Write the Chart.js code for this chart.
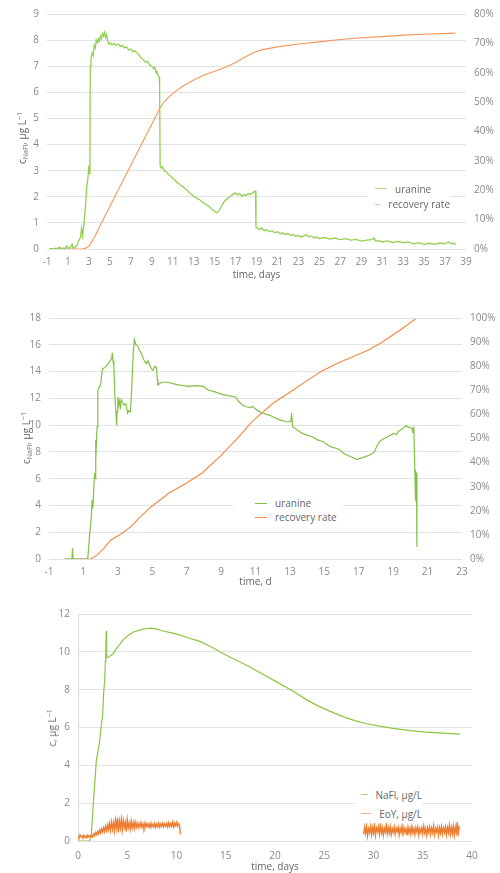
<!DOCTYPE html>
<html>
<head>
<meta charset="utf-8">
<script src="https://cdn.jsdelivr.net/npm/chart.js@4.4.1/dist/chart.umd.min.js"></script>
<style>
  body { margin: 0; background: #fff; font-family: "Open Sans", sans-serif; }
  #page { position: relative; width: 500px; height: 873px; overflow: hidden; }
  canvas { position: absolute; left: 0; }
  .ytitle { position: absolute; transform: translate(-50%, -50%) rotate(-90deg); white-space: nowrap; font-size: 10px; color: #666; }
  .ytitle sub { font-size: 7px; vertical-align: -2px; }
  .ytitle sup { font-size: 7px; vertical-align: 4px; }
  .legend { position: absolute; background: #fff; font-size: 10px; color: #666; }
  .legend .row { display: flex; align-items: center; white-space: nowrap; }
  .legend .swatch { display: inline-block; width: 12px; height: 0; border-top: 1.5px solid; margin-right: 8px; }
</style>
</head>
<body>
<div id="page">
  <canvas id="uranineLongChart" width="500" height="290" style="top:0"></canvas>
  <canvas id="uranineShortChart" width="500" height="290" style="top:300px"></canvas>
  <canvas id="tracerChart" width="500" height="273" style="top:600px"></canvas>

  <div class="ytitle" style="left:22px; top:138px">c<sub>NaFl</sub>, µg L<sup>−1</sup></div>
  <div class="ytitle" style="left:26px; top:438px">c<sub>NaFl</sub>, µg L<sup>−1</sup></div>
  <div class="ytitle" style="left:52px; top:728px">c, µg L<sup>−1</sup></div>

  <div class="legend" id="legend1" style="left:368px; top:181px; width:82px; height:31px; padding-left:7px; box-sizing:border-box"></div>
  <div class="legend" id="legend2" style="left:233px; top:496px; width:110px; height:30px; padding-left:22px; box-sizing:border-box"></div>
  <div class="legend" id="legend3" style="left:355px; top:785px; width:67px; height:38px; padding-left:6px; box-sizing:border-box"></div>
</div>

<script>
// ---- chart 1: uranine, long run (days, µg/L and %)
const longTicksX = [-1, 1, 3, 5, 7, 9, 11, 13, 15, 17, 19, 21, 23, 25, 27, 29, 31, 33, 35, 37, 39];
const longUranine = [
  [-0.8,0],[-0.6,0.01],[-0.4,0],[-0.2,0.03],[0,0.01],[0.2,0.08],[0.3,0.01],[0.5,0.04],[0.7,0.02],[0.9,0.12],
  [1.0,0.02],[1.2,0.05],[1.4,0.18],[1.5,0.03],[1.7,0.08],[1.9,0.15],[2.0,0.3],[2.2,0.45],[2.3,0.8],[2.4,0.5],
  [2.5,0.85],[2.6,1.3],[2.7,1.8],[2.8,2.4],[2.9,2.7],[3.0,3.2],[3.05,2.9],[3.1,3.4],[3.13,7.0],[3.2,7.3],
  [3.3,7.5],[3.4,7.4],[3.5,7.8],[3.6,7.7],[3.7,8.0],[3.8,7.9],[3.9,8.05],[4.0,7.95],[4.1,8.15],[4.2,8.05],
  [4.3,8.25],[4.4,8.15],[4.5,8.3],[4.6,8.1],[4.7,8.2],[4.8,7.95],[4.9,7.85],[5.0,7.9],[5.2,7.82],[5.4,7.88],
  [5.6,7.8],[5.8,7.85],[6.0,7.76],[6.2,7.8],[6.4,7.7],[6.6,7.74],[6.8,7.62],[7.0,7.66],[7.2,7.56],[7.4,7.6],
  [7.6,7.5],[7.8,7.42],[8.0,7.3],[8.2,7.25],[8.4,7.15],[8.6,7.18],[8.8,7.05],[9.0,7.0],[9.2,6.9],[9.3,6.95],
  [9.4,6.75],[9.5,6.8],[9.6,6.65],[9.7,6.6],[9.75,6.3],[9.8,3.2],[9.9,3.1],[10.0,3.15],[10.2,3.0],[10.4,2.95],
  [10.6,2.85],[10.8,2.8],[11.0,2.7],[11.2,2.65],[11.4,2.55],[11.6,2.5],[11.8,2.42],[12.0,2.38],[12.2,2.3],[12.4,2.25],
  [12.6,2.15],[12.8,2.1],[13.0,2.02],[13.2,1.98],[13.4,1.92],[13.6,1.88],[13.8,1.8],[14.0,1.76],[14.2,1.7],[14.4,1.65],
  [14.6,1.58],[14.8,1.5],[15.0,1.45],[15.2,1.38],[15.4,1.45],[15.6,1.6],[15.8,1.75],[16.0,1.85],[16.2,1.92],[16.4,1.98],
  [16.6,2.05],[16.8,2.1],[17.0,2.15],[17.2,2.08],[17.4,2.12],[17.6,2.02],[17.8,2.08],[18.0,2.05],[18.2,2.12],[18.4,2.08],
  [18.6,2.15],[18.8,2.2],[18.9,2.22],[18.95,0.85],[19.0,0.82],[19.25,0.75],[19.5,0.8],[19.75,0.7],[20.0,0.74],[20.25,0.66],
  [20.5,0.7],[20.75,0.62],[21.0,0.66],[21.25,0.58],[21.5,0.62],[21.75,0.55],[22.0,0.6],[22.25,0.52],[22.5,0.56],[22.75,0.48],
  [23.0,0.52],[23.25,0.46],[23.5,0.5],[23.75,0.55],[24.0,0.46],[24.25,0.5],[24.5,0.42],[24.75,0.46],[25.0,0.4],[25.5,0.44],
  [26.0,0.38],[26.5,0.42],[27.0,0.36],[27.5,0.4],[28.0,0.34],[28.5,0.37],[29.0,0.3],[29.5,0.34],[30.0,0.36],[30.2,0.42],
  [30.4,0.3],[30.7,0.32],[31.0,0.27],[31.5,0.31],[32.0,0.25],[32.5,0.29],[33.0,0.24],[33.5,0.27],[34.0,0.2],[34.5,0.24],
  [35.0,0.18],[35.5,0.22],[36.0,0.18],[36.5,0.23],[37.0,0.2],[37.3,0.27],[37.6,0.2],[37.9,0.22],[38.0,0.16]
];
const longRecovery = [
  [-0.8,0],[2.4,0],[2.7,0.3],[3.0,1],[3.3,2.5],[3.6,4.5],[4.0,7.5],[5,14.5],[6,21.5],[7,28.5],
  [8,35.5],[9,42.5],[9.7,47.5],[10.2,50.2],[11,53],[12,55.5],[13,57.5],[14,59.2],[15,60.5],[16,61.8],
  [17,63.5],[18,65.5],[18.8,67],[19.5,67.8],[21,68.8],[23,69.8],[25,70.5],[27,71.3],[29,71.9],[31,72.3],
  [33,72.8],[35,73.1],[38,73.5]
];

// ---- chart 2: uranine, short run
const shortTicksX = [-1, 1, 3, 5, 7, 9, 11, 13, 15, 17, 19, 21, 23];
const shortUranine = [
  [-0.1,0],[0.33,0],[0.37,0.8],[0.4,0],[1.25,0],[1.37,1.9],[1.45,3.0],[1.51,4.4],[1.55,3.8],[1.6,5.2],
  [1.65,6.4],[1.68,6.0],[1.7,8.9],[1.73,7.2],[1.77,9.3],[1.8,9.9],[1.84,12.6],[1.9,12.8],[2.0,13.0],[2.1,14.2],
  [2.25,14.3],[2.39,14.5],[2.55,14.8],[2.65,15.0],[2.68,15.4],[2.72,14.8],[2.77,14.4],[2.83,12.1],[2.93,10.0],[2.96,11.0],
  [3.0,12.1],[3.05,11.5],[3.1,11.8],[3.15,11.2],[3.2,11.9],[3.27,11.7],[3.35,11.5],[3.47,11.6],[3.57,10.9],[3.65,11.1],
  [3.73,11.0],[3.8,12.5],[3.9,15.5],[3.96,16.4],[4.05,16.0],[4.16,15.9],[4.25,15.6],[4.35,15.4],[4.5,14.9],[4.65,14.6],
  [4.75,14.8],[4.85,14.5],[4.95,14.2],[5.04,14.1],[5.15,14.4],[5.24,14.3],[5.3,13.4],[5.33,13.0],[5.53,13.2],[5.92,13.2],
  [6.2,13.1],[6.5,13.0],[7.1,12.9],[7.5,12.95],[7.98,12.9],[8.1,12.75],[8.27,12.6],[8.6,12.5],[9.05,12.3],[9.4,12.2],
  [9.84,12.1],[10.0,11.8],[10.23,11.5],[10.5,11.35],[10.73,11.3],[10.82,11.4],[11.1,11.1],[11.4,10.9],[11.8,10.75],[12.2,10.5],
  [12.5,10.35],[12.78,10.25],[13.05,10.25],[13.1,10.9],[13.15,9.9],[13.4,9.65],[13.7,9.4],[14.0,9.25],[14.3,9.13],[14.6,8.9],
  [14.95,8.76],[15.1,8.6],[15.35,8.39],[15.6,8.3],[15.93,8.14],[16.1,7.9],[16.5,7.65],[16.9,7.44],[17.2,7.55],[17.5,7.7],
  [17.7,7.8],[17.9,8.0],[18.05,8.4],[18.2,8.76],[18.4,8.95],[18.66,9.13],[19.06,9.38],[19.2,9.3],[19.3,9.55],[19.44,9.63],
  [19.6,9.8],[19.75,9.93],[19.9,9.85],[20.1,9.75],[20.15,9.4],[20.2,9.9],[20.25,7.0],[20.3,4.4],[20.32,6.5],[20.35,6.4],
  [20.38,0.9]
];
const shortRecovery = [
  [-0.1,0],[1.45,0],[1.8,1.7],[2.2,4.5],[2.59,7.9],[3.2,10.5],[3.76,13.4],[4.3,17.5],[4.94,21.7],[6,27.5],
  [7,31.5],[7.88,35.6],[9,43],[10,50.5],[10.8,57],[12,64.5],[13.17,70],[14,74],[14.73,77.5],[15.7,81],
  [16.69,84],[17.5,86.5],[18.26,89.5],[19.3,94.5],[20.3,99.6]
];

// ---- chart 3: NaFl and EoY
const nafl = [
  [0,0],[1.19,0],[1.36,0.42],[1.6,2.3],[1.87,4.3],[2.05,4.8],[2.2,5.3],[2.38,6.2],[2.5,6.6],[2.6,7.8],
  [2.71,8.5],[2.78,9.5],[2.82,9.7],[2.86,11.1],[2.89,11.1],[2.92,9.7],[3.0,9.7],[3.2,9.75],[3.56,9.9],[4.0,10.25],
  [4.24,10.4],[4.6,10.65],[4.92,10.8],[5.6,11.05],[6.6,11.2],[7.46,11.25],[8.0,11.2],[8.65,11.1],[9.5,11.0],[10.3,10.9],
  [11.3,10.72],[12.37,10.55],[13.4,10.3],[14.4,10.0],[15.5,9.7],[16.5,9.45],[17.47,9.2],[18.8,8.8],[20.2,8.4],[21.9,7.9],
  [23.1,7.5],[24.25,7.17],[25.6,6.85],[26.96,6.56],[28.1,6.36],[29.3,6.2],[30.6,6.07],[32.0,5.95],[33.5,5.85],[35.1,5.77],
  [37,5.7],[38.76,5.65]
];
const eoyEarly = [
  [0.0,0.25],[0.1,0.18],[0.2,0.32],[0.3,0.22],[0.4,0.28],[0.5,0.15],[0.6,0.3],[0.7,0.2],[0.8,0.27],[0.9,0.17],
  [1.0,0.31],[1.1,0.22],[1.2,0.26],[1.3,0.2],[1.4,0.3],[1.5,0.22],[1.6,0.38],[1.7,0.28],[1.8,0.45],[1.9,0.33],
  [2.0,0.5],[2.1,0.38],[2.2,0.58],[2.3,0.42],[2.4,0.64],[2.5,0.48],[2.6,0.7],[2.7,0.5],[2.8,0.78],[2.9,0.55],
  [3.0,0.85],[3.1,0.6],[3.2,0.92],[3.3,0.58],[3.4,1.0],[3.5,0.62],[3.6,0.95],[3.7,0.55],[3.8,1.1],[3.9,0.7],
  [4.0,1.22],[4.1,0.45],[4.2,1.05],[4.3,0.68],[4.4,1.15],[4.5,0.6],[4.6,1.08],[4.7,0.72],[4.8,0.98],[4.9,0.5],
  [5.0,1.12],[5.1,0.7],[5.2,0.95],[5.3,0.62],[5.4,1.05],[5.5,0.7],[5.6,0.98],[5.7,0.66],[5.8,1.0],[5.9,0.72],
  [6.0,0.95],[6.1,0.7],[6.2,0.92],[6.3,0.75],[6.4,0.97],[6.5,0.72],[6.6,0.9],[6.7,0.7],[6.8,0.95],[6.9,0.74],
  [7.0,0.92],[7.1,0.76],[7.2,0.9],[7.3,0.72],[7.4,0.95],[7.5,0.75],[7.6,0.88],[7.7,0.74],[7.8,0.93],[7.9,0.72],
  [8.0,0.9],[8.1,0.76],[8.2,0.94],[8.3,0.74],[8.4,0.9],[8.5,0.78],[8.6,0.95],[8.7,0.75],[8.8,0.9],[8.9,0.78],
  [9.0,0.92],[9.1,0.74],[9.2,0.96],[9.3,0.76],[9.4,0.92],[9.5,0.78],[9.6,1.0],[9.7,0.75],[9.8,0.94],[9.9,0.8],
  [10.0,0.98],[10.1,0.78],[10.2,0.92],[10.3,0.85],[10.4,0.35]
];
const eoyLate = [
  [29.0,0.35],[29.1,0.72],[29.2,0.4],[29.3,0.8],[29.4,0.28],[29.5,0.65],[29.6,0.45],[29.7,0.78],[29.8,0.32],[29.9,0.7],
  [30.0,0.42],[30.1,0.85],[30.2,0.3],[30.3,0.68],[30.4,0.5],[30.5,0.75],[30.6,0.36],[30.7,0.82],[30.8,0.44],[30.9,0.7],
  [31.0,0.3],[31.1,0.66],[31.2,0.48],[31.3,0.9],[31.4,0.38],[31.5,0.7],[31.6,0.42],[31.7,0.76],[31.8,0.34],[31.9,0.65],
  [32.0,0.46],[32.1,0.74],[32.2,0.36],[32.3,0.68],[32.4,0.5],[32.5,0.72],[32.6,0.32],[32.7,0.66],[32.8,0.44],[32.9,0.78],
  [33.0,0.38],[33.1,0.7],[33.2,0.46],[33.3,0.64],[33.4,0.3],[33.5,0.72],[33.6,0.42],[33.7,0.68],[33.8,0.36],[33.9,0.76],
  [34.0,0.44],[34.1,0.66],[34.2,0.34],[34.3,0.7],[34.4,0.48],[34.5,0.74],[34.6,0.32],[34.7,0.64],[34.8,0.45],[34.9,0.7],
  [35.0,0.38],[35.1,0.78],[35.2,0.42],[35.3,0.66],[35.4,0.3],[35.5,0.7],[35.6,0.46],[35.7,0.74],[35.8,0.36],[35.9,0.68],
  [36.0,0.44],[36.1,0.8],[36.2,0.34],[36.3,0.66],[36.4,0.48],[36.5,0.72],[36.6,0.3],[36.7,0.7],[36.8,0.42],[36.9,0.76],
  [37.0,0.36],[37.1,0.68],[37.2,0.46],[37.3,0.74],[37.4,0.32],[37.5,0.7],[37.6,0.44],[37.7,0.82],[37.8,0.36],[37.9,0.72],
  [38.0,0.4],[38.1,0.78],[38.2,0.3],[38.3,0.74],[38.4,0.44],[38.5,1.0],[38.6,0.28],[38.7,0.8]
];

const tickColor = "#8a8a8a";
const gridColor = "#e2e2e2";
const tickFont = { family: "'Open Sans', sans-serif", size: 10 };
const titleFont = { family: "'Open Sans', sans-serif", size: 10 };

const toPoints = (pairs) => pairs.map(([x, y]) => ({ x, y }));

function lineSet(label, pairs, color, yAxisID, width) {
  return {
    label,
    data: toPoints(pairs),
    borderColor: color,
    backgroundColor: color,
    borderWidth: width || 1.2,
    pointRadius: 0,
    tension: 0,
    yAxisID: yAxisID || "y",
  };
}

function xScale(min, max, ticks, title, labelPad, titlePad, height) {
  return {
    type: "linear",
    min,
    max,
    afterBuildTicks: (scale) => { scale.ticks = ticks.map((value) => ({ value })); },
    ticks: { color: tickColor, font: tickFont, padding: labelPad, maxRotation: 0, autoSkip: false },
    grid: { display: false, drawTicks: false },
    border: { display: false },
    title: { display: true, text: title, color: "#666", font: titleFont, padding: { top: 0, bottom: titlePad } },
    afterFit: (scale) => { scale.height = height; },
  };
}

function leftScale(max, step, width, showBorder) {
  return {
    position: "left",
    min: 0,
    max,
    ticks: { stepSize: step, color: tickColor, font: tickFont, padding: 8 },
    grid: { color: gridColor, drawTicks: false },
    border: { display: !!showBorder, color: "#d9d9d9" },
    afterFit: (scale) => { scale.width = width; },
  };
}

function rightScale(max, step, width) {
  return {
    position: "right",
    min: 0,
    max,
    ticks: { stepSize: step, color: tickColor, font: tickFont, padding: 8, callback: (v) => `${v}%` },
    grid: { display: false, drawTicks: false },
    border: { display: false },
    afterFit: (scale) => { scale.width = width; },
  };
}

const common = {
  responsive: false,
  animation: false,
  devicePixelRatio: 1,
  plugins: { legend: { display: false }, tooltip: { enabled: false } },
};

new Chart(document.getElementById("uranineLongChart"), {
  type: "line",
  data: {
    datasets: [
      lineSet("uranine", longUranine, "#92d050", "y", 1.3),
      lineSet("recovery rate", longRecovery, "#f7945a", "y1", 1.1),
    ],
  },
  options: {
    ...common,
    layout: { padding: { top: 12, left: 0, right: 0, bottom: 0 } },
    scales: {
      x: xScale(-1, 39, longTicksX, "time, days", 7, 9, 41),
      y: leftScale(9, 1, 47),
      y1: rightScale(80, 10, 34),
    },
  },
});

new Chart(document.getElementById("uranineShortChart"), {
  type: "line",
  data: {
    datasets: [
      lineSet("uranine", shortUranine, "#84c045", "y", 1.2),
      lineSet("recovery rate", shortRecovery, "#f4883f", "y1", 1.1),
    ],
  },
  options: {
    ...common,
    layout: { padding: { top: 18, left: 0, right: 0, bottom: 0 } },
    scales: {
      x: xScale(-1, 23, shortTicksX, "time, d", 7, 2, 31),
      y: leftScale(18, 2, 49),
      y1: rightScale(100, 10, 38),
    },
  },
});

new Chart(document.getElementById("tracerChart"), {
  type: "line",
  data: {
    datasets: [
      lineSet("EoY, µg/L", eoyEarly, "#ed7d31", "y", 1.4),
      lineSet("EoY, µg/L", eoyLate, "#ed7d31", "y", 1.4),
      lineSet("NaFl, µg/L", nafl, "#8cc63f", "y", 1.2),
    ],
  },
  options: {
    ...common,
    layout: { padding: { top: 13, left: 0, right: 28, bottom: 0 } },
    scales: {
      x: xScale(0, 40, [0, 5, 10, 15, 20, 25, 30, 35, 40], "time, days", 9, 0, 32),
      y: leftScale(12, 2, 78, true),
    },
  },
});

function renderLegend(id, items, rowHeight) {
  document.getElementById(id).innerHTML = items.map(([label, color]) => `
    <div class="row" style="height:${rowHeight}px"><span class="swatch" style="border-color:${color}"></span>${label}</div>
  `).join("");
}

renderLegend("legend1", [["uranine", "#b5dd88"], ["recovery rate", "#f9b88e"]], 15.5);
renderLegend("legend2", [["uranine", "#84c045"], ["recovery rate", "#f4883f"]], 14);
renderLegend("legend3", [["NaFl, µg/L", "#a8d576"], ["EoY, µg/L", "#f6b38a"]], 19);
</script>
</body>
</html>
